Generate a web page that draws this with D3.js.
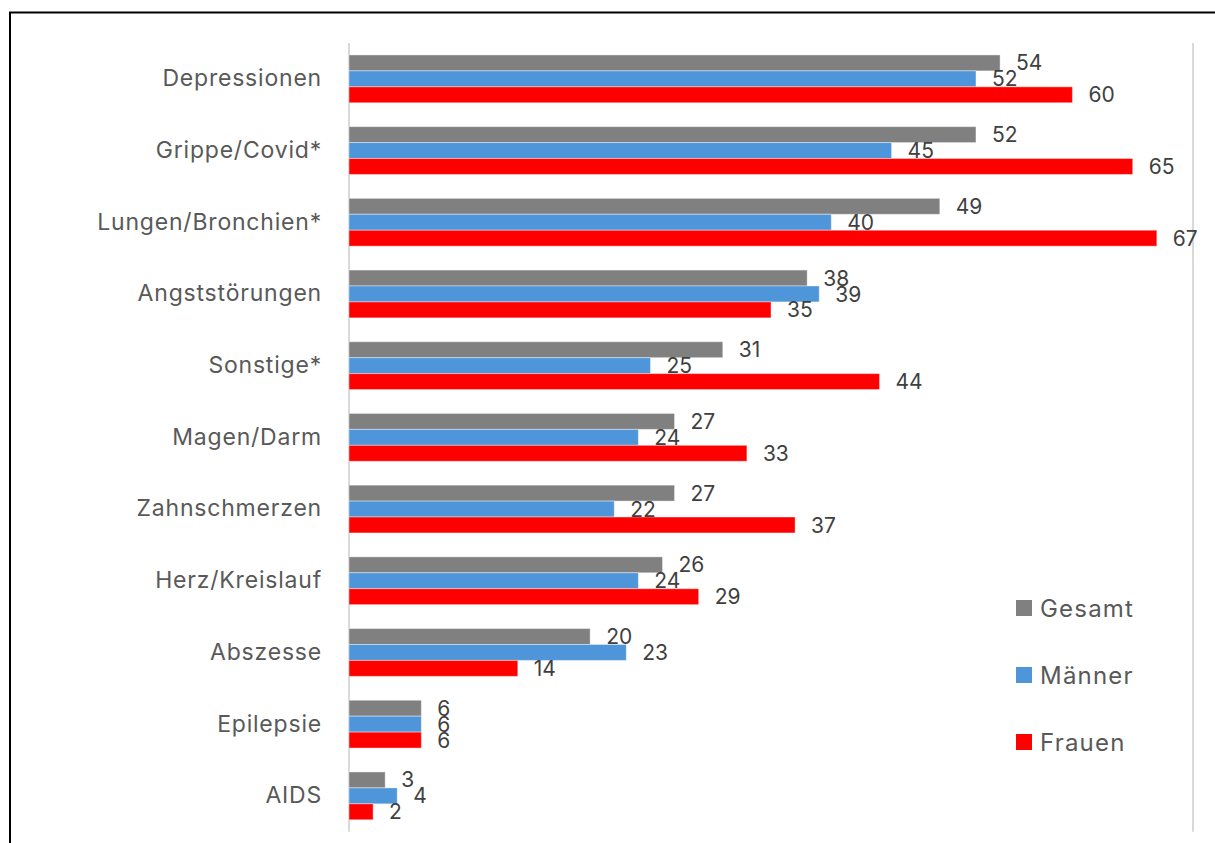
<!DOCTYPE html>
<html>
<head>
<meta charset="utf-8">
<script src="https://cdn.jsdelivr.net/npm/d3@7"></script>
<style>
  body { margin: 0; background: #fff; }
  svg { display: block; font-family: Inter, "Open Sans", sans-serif; }
</style>
</head>
<body>
<svg width="1215" height="843"></svg>
<script>
// Grouped horizontal bars

var categories = ["Depressionen", "Grippe/Covid*", "Lungen/Bronchien*", "Angststörungen", "Sonstige*",
                  "Magen/Darm", "Zahnschmerzen", "Herz/Kreislauf", "Abszesse", "Epilepsie", "AIDS"];
var seriesNames = ["Gesamt", "Männer", "Frauen"];
var gesamt = [54, 52, 49, 38, 31, 27, 27, 26, 20, 6, 3];
var maenner = [52, 45, 40, 39, 25, 24, 22, 24, 23, 6, 4];
var frauen = [60, 65, 67, 35, 44, 33, 37, 29, 14, 6, 2];
var colors = ["#808080", "#4e95d9", "#ff0000"];

var svg = d3.select("svg");

// outer frame (only top and left edges are visible in the picture)
svg.append("rect")
   .attr("x", 10).attr("y", 12.5)
   .attr("width", 1400).attr("height", 1000)
   .attr("fill", "none")
   .attr("stroke", "#000")
   .attr("stroke-width", 2);

var plotLeft = 349, plotRight = 1193, plotTop = 43, plotBottom = 831.7;

var xScale = d3.scaleLinear()
   .domain([0, 70])
   .range([plotLeft, plotRight]);

var yScale = d3.scaleBand()
   .domain(categories)
   .range([plotTop, plotBottom])
   .paddingInner(1 / 3)
   .paddingOuter(1 / 6);

var ySub = d3.scaleBand()
   .domain(seriesNames)
   .range([0, yScale.bandwidth()]);

// gridlines
svg.append("g")
   .selectAll("line")
   .data([0, 70])
   .enter()
   .append("line")
   .attr("x1", function(d) { return xScale(d); })
   .attr("x2", function(d) { return xScale(d); })
   .attr("y1", plotTop)
   .attr("y2", plotBottom)
   .attr("stroke", "#d9d9d9")
   .attr("stroke-width", 2);

// category labels
var y_axis = d3.axisLeft(yScale).tickSize(0).tickPadding(27);
var yAxisG = svg.append("g")
   .attr("transform", "translate(" + plotLeft + ",0)")
   .call(y_axis);
yAxisG.select(".domain").remove();
yAxisG.selectAll("text")
   .attr("fill", "#595959")
   .style("font-size", "23px")
   .style("letter-spacing", "0.8px")
   .style("font-family", "Inter, 'Open Sans', sans-serif");

var rows = [];
categories.forEach(function(c, i) {
   rows.push({cat: c, series: "Gesamt", value: gesamt[i], color: colors[0]});
   rows.push({cat: c, series: "Männer", value: maenner[i], color: colors[1]});
   rows.push({cat: c, series: "Frauen", value: frauen[i], color: colors[2]});
});

// bars
svg.append("g")
   .selectAll("rect")
   .data(rows)
   .enter()
   .append("rect")
   .attr("x", xScale(0))
   .attr("y", function(d) { return yScale(d.cat) + ySub(d.series); })
   .attr("width", function(d) { return xScale(d.value) - xScale(0); })
   .attr("height", ySub.bandwidth())
   .attr("fill", function(d) { return d.color; })
   .attr("stroke", "#fff")
   .attr("stroke-opacity", 0.4)
   .attr("stroke-width", 1);

// value labels
svg.append("g")
   .selectAll("text")
   .data(rows)
   .enter()
   .append("text")
   .attr("x", function(d) { return xScale(d.value) + 16; })
   .attr("y", function(d) { return yScale(d.cat) + ySub(d.series) + ySub.bandwidth() / 2; })
   .attr("dy", "0.36em")
   .attr("fill", "#404040")
   .style("font-size", "21px")
   .text(function(d) { return d.value; });

// legend
var legendY = d3.scalePoint()
   .domain(seriesNames)
   .range([608, 742]);

var legend = svg.append("g")
   .selectAll("g")
   .data(seriesNames)
   .enter()
   .append("g")
   .attr("transform", function(d) { return "translate(1016," + legendY(d) + ")"; });

legend.append("rect")
   .attr("x", 0).attr("y", -8)
   .attr("width", 16).attr("height", 16)
   .attr("fill", function(d, i) { return colors[i]; });

legend.append("text")
   .attr("x", 24)
   .attr("dy", "0.36em")
   .attr("fill", "#595959")
   .style("font-size", "24px")
   .style("letter-spacing", "1.2px")
   .text(function(d) { return d; });
</script>
</body>
</html>
